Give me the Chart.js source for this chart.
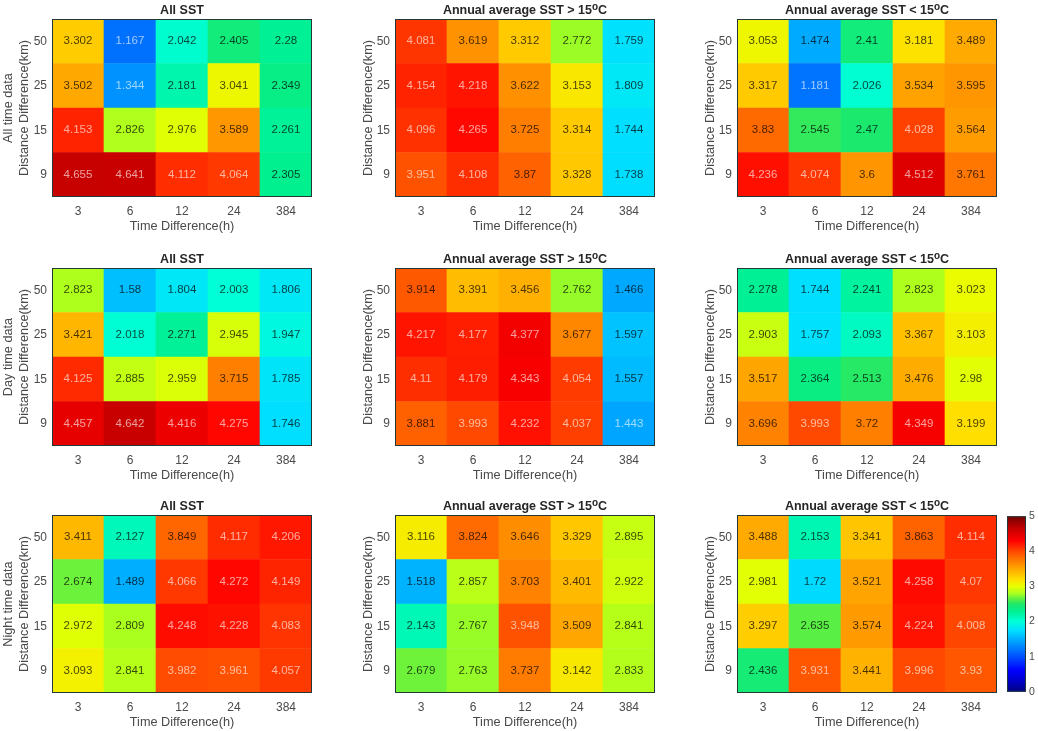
<!DOCTYPE html>
<html>
<head>
<meta charset="utf-8">
<title>SST heat maps</title>
<script src="https://cdn.jsdelivr.net/npm/chart.js@4"></script>
<style>
  html, body { margin: 0; padding: 0; background: #fff; }
  #page { position: relative; width: 1038px; height: 731px; overflow: hidden; }
  #page canvas { position: absolute; }
</style>
</head>
<body>
<div id="page"></div>
<script>
// tick labels
const timeLabels = ['3', '6', '12', '24', '384'];
const distLabels = ['50', '25', '15', '9']; // top row first
const rowNames = ['All time data', 'Day time data', 'Night time data'];
const colTitles = ['All SST', 'Annual average SST > 15', 'Annual average SST < 15'];

// cell values, rows top to bottom (50, 25, 15, 9 km)
const allAll = [[3.302, 1.167, 2.042, 2.405, 2.28], [3.502, 1.344, 2.181, 3.041, 2.349], [4.153, 2.826, 2.976, 3.589, 2.261], [4.655, 4.641, 4.112, 4.064, 2.305]];
const allWarm = [[4.081, 3.619, 3.312, 2.772, 1.759], [4.154, 4.218, 3.622, 3.153, 1.809], [4.096, 4.265, 3.725, 3.314, 1.744], [3.951, 4.108, 3.87, 3.328, 1.738]];
const allCold = [[3.053, 1.474, 2.41, 3.181, 3.489], [3.317, 1.181, 2.026, 3.534, 3.595], [3.83, 2.545, 2.47, 4.028, 3.564], [4.236, 4.074, 3.6, 4.512, 3.761]];
const dayAll = [[2.823, 1.58, 1.804, 2.003, 1.806], [3.421, 2.018, 2.271, 2.945, 1.947], [4.125, 2.885, 2.959, 3.715, 1.785], [4.457, 4.642, 4.416, 4.275, 1.746]];
const dayWarm = [[3.914, 3.391, 3.456, 2.762, 1.466], [4.217, 4.177, 4.377, 3.677, 1.597], [4.11, 4.179, 4.343, 4.054, 1.557], [3.881, 3.993, 4.232, 4.037, 1.443]];
const dayCold = [[2.278, 1.744, 2.241, 2.823, 3.023], [2.903, 1.757, 2.093, 3.367, 3.103], [3.517, 2.364, 2.513, 3.476, 2.98], [3.696, 3.993, 3.72, 4.349, 3.199]];
const nightAll = [[3.411, 2.127, 3.849, 4.117, 4.206], [2.674, 1.489, 4.066, 4.272, 4.149], [2.972, 2.809, 4.248, 4.228, 4.083], [3.093, 2.841, 3.982, 3.961, 4.057]];
const nightWarm = [[3.116, 3.824, 3.646, 3.329, 2.895], [1.518, 2.857, 3.703, 3.401, 2.922], [2.143, 2.767, 3.948, 3.509, 2.841], [2.679, 2.763, 3.737, 3.142, 2.833]];
const nightCold = [[3.488, 2.153, 3.341, 3.863, 4.114], [2.981, 1.72, 3.521, 4.258, 4.07], [3.297, 2.635, 3.574, 4.224, 4.008], [2.436, 3.931, 3.441, 3.996, 3.93]];
const panelData = [[allAll, allWarm, allCold], [dayAll, dayWarm, dayCold], [nightAll, nightWarm, nightCold]];

// colormap: [value, colour]
const cmapStops = [
  [0, '#000080'], [0.3, '#0000c8'], [0.6, '#0000ff'], [1, '#0050ff'], [1.5, '#00b0ff'], [1.75, '#00e0ff'],
  [2, '#00ffd8'], [2.3, '#00f090'], [2.5, '#20e868'], [2.65, '#60f040'], [2.8, '#a8ff20'], [3, '#e8ff00'],
  [3.2, '#ffdf00'], [3.5, '#ffa800'], [3.8, '#ff7000'], [4, '#ff4800'], [4.3, '#ff0000'], [4.65, '#c80000'], [5, '#700000']
];

const FONT = '"Liberation Sans", Arial, sans-serif';
const TEXT = '#4a4a4a';
const colX = [52, 395, 737];
const rowY = [19, 268, 515];
const PLOT_W = 260, PLOT_H = 178, LEFT = 52, TOP = 19, BOTTOM = 40, RIGHT = 8;

function hexRgb(h) {
  return [1, 3, 5].map(i => parseInt(h.substr(i, 2), 16));
}

function heatColor(v) {
  for (let i = 1; i < cmapStops.length; i++) {
    if (v <= cmapStops[i][0]) {
      const a = cmapStops[i - 1], b = cmapStops[i];
      const t = (v - a[0]) / (b[0] - a[0]);
      const ca = hexRgb(a[1]), cb = hexRgb(b[1]);
      return 'rgb(' + ca.map((c, k) => Math.round(c + (cb[k] - c) * t)).join(',') + ')';
    }
  }
  return cmapStops[cmapStops.length - 1][1];
}

// the numbers inside the cells, the frame and the title with its raised "o"
const cellPlugin = {
  id: 'cellText',
  afterDatasetsDraw(chart) {
    const ctx = chart.ctx;
    const area = chart.chartArea;
    ctx.save();
    ctx.font = '11.5px ' + FONT;
    ctx.textAlign = 'center';
    ctx.textBaseline = 'middle';
    chart.data.datasets.forEach((ds, d) => {
      chart.getDatasetMeta(d).data.forEach((bar, i) => {
        const v = ds.heat[i];
        ctx.fillStyle = (v > 3.92 || v < 1.45) ? 'rgba(255,255,255,0.62)' : 'rgba(0,0,0,0.72)';
        ctx.fillText(String(v), bar.x, (bar.y + bar.base) / 2);
      });
    });
    ctx.strokeStyle = '#24383a';
    ctx.lineWidth = 1;
    ctx.strokeRect(area.left + 0.5, area.top + 0.5, area.width - 1, area.height - 1);

    const title = chart.options.plugins.panelTitle;
    const sup = title.warmCold;
    ctx.fillStyle = '#262626';
    ctx.textAlign = 'left';
    ctx.textBaseline = 'alphabetic';
    const bold = 'bold 12.5px ' + FONT, small = 'bold 10px ' + FONT;
    ctx.font = bold;
    const w1 = ctx.measureText(title.text).width;
    const w3 = sup ? ctx.measureText('C').width : 0;
    ctx.font = small;
    const w2 = sup ? ctx.measureText('o').width : 0;
    let x = (area.left + area.right) / 2 - (w1 + w2 + w3) / 2;
    const y = area.top - 5.5;
    ctx.font = bold;
    ctx.fillText(title.text, x, y);
    if (sup) {
      x += w1;
      ctx.font = small;
      ctx.fillText('o', x, y - 4);
      x += w2;
      ctx.font = bold;
      ctx.fillText('C', x, y);
    }
    ctx.restore();
  }
};

function addCanvas(left, top, w, h) {
  const c = document.createElement('canvas');
  c.style.left = left + 'px';
  c.style.top = top + 'px';
  c.style.width = w + 'px';
  c.style.height = h + 'px';
  c.width = w;
  c.height = h;
  document.getElementById('page').appendChild(c);
  return c;
}

function drawPanel(r, c) {
  const grid = panelData[r][c];
  const w = LEFT + PLOT_W + RIGHT, h = TOP + PLOT_H + BOTTOM;
  const canvas = addCanvas(colX[c] - LEFT, rowY[r] - TOP, w, h);
  // bottom row of the picture is stacked first
  const datasets = grid.slice().reverse().map(row => ({
    data: row.map(() => 1),
    heat: row,
    backgroundColor: row.map(heatColor),
    borderWidth: 0,
    barPercentage: 1,
    categoryPercentage: 1
  }));
  const yTitle = c === 0 ? [rowNames[r], 'Distance Difference(km)'] : 'Distance Difference(km)';
  new Chart(canvas.getContext('2d'), {
    type: 'bar',
    data: { labels: timeLabels, datasets: datasets },
    plugins: [cellPlugin],
    options: {
      responsive: false,
      animation: false,
      devicePixelRatio: 1,
      layout: { padding: { top: TOP, right: RIGHT, left: 0, bottom: 0 } },
      plugins: {
        legend: { display: false },
        tooltip: { enabled: false },
        panelTitle: { text: colTitles[c], warmCold: c > 0 }
      },
      scales: {
        x: {
          stacked: true,
          grid: { display: false, drawTicks: false },
          border: { display: false },
          ticks: { color: TEXT, font: { family: FONT, size: 12 }, padding: 7, maxRotation: 0 },
          title: { display: true, text: 'Time Difference(h)', color: TEXT, font: { family: FONT, size: 12.7 }, padding: { top: 1, bottom: 2.5 } },
          afterFit: s => { s.height = BOTTOM; }
        },
        y: {
          stacked: true,
          min: 0,
          max: distLabels.length,
          grid: { display: false, drawTicks: false },
          border: { display: false },
          afterBuildTicks: s => { s.ticks = distLabels.map((l, i) => ({ value: i + 0.5 })); },
          ticks: {
            color: TEXT,
            font: { family: FONT, size: 12 },
            padding: 5,
            autoSkip: false,
            callback: v => distLabels[distLabels.length - 1 - Math.floor(v)]
          },
          title: { display: true, text: yTitle, color: TEXT, font: { family: FONT, size: 12.7, lineHeight: 1.25 }, padding: { top: c === 0 ? 1 : 18, bottom: 0 } },
          afterFit: s => { s.width = LEFT; }
        }
      }
    }
  });
}

function drawColorBar() {
  const pad = 8;
  const canvas = addCanvas(1007, rowY[2] - pad, 31, PLOT_H + pad * 2);
  new Chart(canvas.getContext('2d'), {
    type: 'bar',
    data: {
      labels: [''],
      datasets: [{
        data: [[0, 5]],
        barPercentage: 1,
        categoryPercentage: 1,
        borderWidth: 0,
        backgroundColor: ctx => {
          const area = ctx.chart.chartArea;
          if (!area) return '#000';
          const g = ctx.chart.ctx.createLinearGradient(0, area.bottom, 0, area.top);
          cmapStops.forEach(s => g.addColorStop(s[0] / 5, s[1]));
          return g;
        }
      }]
    },
    plugins: [{
      id: 'barFrame',
      afterDatasetsDraw(chart) {
        const a = chart.chartArea, ctx = chart.ctx;
        ctx.save();
        ctx.strokeStyle = '#24383a';
        ctx.strokeRect(a.left + 0.5, a.top + 0.5, a.width - 1, a.height - 1);
        ctx.restore();
      }
    }],
    options: {
      responsive: false,
      animation: false,
      devicePixelRatio: 1,
      layout: { padding: { top: pad, bottom: pad, left: 0, right: 0 } },
      plugins: { legend: { display: false }, tooltip: { enabled: false } },
      scales: {
        x: { display: false },
        y: {
          position: 'right',
          min: 0,
          max: 5,
          grid: { display: false, drawTicks: false },
          border: { display: false },
          ticks: { stepSize: 1, color: TEXT, font: { family: FONT, size: 10.5 }, padding: 3 },
          afterFit: s => { s.width = 12; }
        }
      }
    }
  });
}

for (let r = 0; r < panelData.length; r++) {
  for (let c = 0; c < panelData[r].length; c++) drawPanel(r, c);
}
drawColorBar();
</script>
</body>
</html>
